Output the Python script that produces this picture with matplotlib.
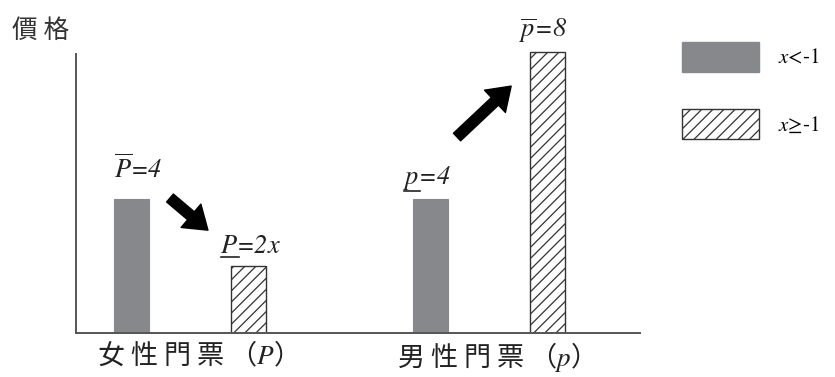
import matplotlib
matplotlib.use("Agg")
import matplotlib.pyplot as plt
from matplotlib.patches import Patch
from matplotlib.lines import Line2D

plt.rcParams['font.family'] = ['Noto Sans CJK TC', 'DejaVu Sans']
plt.rcParams['mathtext.fontset'] = 'stix'
plt.rcParams['hatch.linewidth'] = 0.9
plt.rcParams['hatch.color'] = '#333333'

# ---- data ----
groups = ['女 性 門 票 （$P$）', '男 性 門 票 （$p$）']
group_pos = [0.0, 1.0]
low_values = [4, 4]        # x < -1 (gray bars)
high_values = [2, 8.4]     # x >= -1 (hatched bars)
legend_labels = ['$x$<-1', '$x$≥-1']
ylabel = '價 格'

W, H = 835, 377
fig = plt.figure(figsize=(W / 100, H / 100), dpi=100)
ax = fig.add_axes([76 / W, 44 / H, 564 / W, 9 * 33.5 / H])

off = 0.195
bw = 0.117
gray = '#87888b'
lowx = [g - off for g in group_pos]
highx = [g + off for g in group_pos]
ax.bar(lowx, low_values, width=bw, color=gray, edgecolor=gray, linewidth=0.8, zorder=2)
ax.bar(highx, high_values, width=bw, color='white', edgecolor='#333333',
       hatch='///', linewidth=1.0, zorder=2)

ax.set_xlim(-0.3813, 1.505)
ax.set_ylim(0, 9)
for s in ['top', 'right']:
    ax.spines[s].set_visible(False)
for s in ['left', 'bottom']:
    ax.spines[s].set_color('#555555')
    ax.spines[s].set_linewidth(1.4)
ax.spines['left'].set_bounds(0, 8.33)
ax.set_yticks([])
ax.set_xticks([])

# category labels (below the axis)
label_shift = [0.0, 0.0]
for g, lab, sh in zip(group_pos, groups, label_shift):
    ax.text(g + sh, -0.22, lab, fontsize=19.5, color='#222222', ha='center', va='top')

# value labels
tcol = '#222222'
fs = 19
vkw = dict(fontsize=fs, ha='left', va='baseline', color=tcol,
           family='STIXGeneral', style='italic')
ax.text(lowx[0] - bw / 2, 4.63, '$\\overline{P}$=4', **vkw)
ax.text(highx[1] - bw / 2 - 0.035, 8.84, '$\\overline{p}$=8', **vkw)

underlined = [(highx[0] - bw / 2 - 0.035, 2.39, 'P', '=2x'),
              (lowx[1] - bw / 2 - 0.035, 4.45, 'p', '=4')]
fig.canvas.draw()
renderer = fig.canvas.get_renderer()
for x, y, sym, rest in underlined:
    ax.text(x, y, '$' + sym + '$' + rest, **vkw)
    probe = ax.text(x, y, '$' + sym + '$', alpha=0, **{k: v for k, v in vkw.items() if k != 'color'})
    bb = probe.get_window_extent(renderer)
    probe.remove()
    ydisp = ax.transData.transform((x, y))[1]
    y_line = ydisp - (7 if sym == 'p' else 4)
    fig.add_artist(Line2D([(bb.x0 + 1) / W, (bb.x1 + 1) / W], [y_line / H, y_line / H],
                          color=tcol, linewidth=1.2))

# arrows
astyle = 'simple,head_width=2.2,head_length=1.6,tail_width=0.75'
ax.annotate('', xy=(0.060, 3.07), xytext=(-0.067, 4.03),
            arrowprops=dict(arrowstyle=astyle, mutation_scale=10, color='black', shrinkA=0, shrinkB=0))
ax.annotate('', xy=(1.074, 7.37), xytext=(0.893, 5.85),
            arrowprops=dict(arrowstyle=astyle, mutation_scale=10, color='black', shrinkA=0, shrinkB=0))

# y label
fig.text(12 / W, 1 - 31 / H, ylabel, fontsize=18.5, ha='left', va='center', color='#333333')

# legend
handles = [Patch(facecolor=gray, edgecolor=gray),
           Patch(facecolor='white', edgecolor='#333333', hatch='///')]
em = 15 * 100 / 72
# drawn patch height = em * (0.65 * handleheight + 0.245)
hh = (30 / em - 0.245) / 0.65
leg = fig.legend(handles, legend_labels, loc='upper left',
                 bbox_to_anchor=(682 / W, 1 - 42 / H), frameon=False,
                 prop={'family': 'STIXGeneral', 'size': 15},
                 borderpad=0, borderaxespad=0,
                 handlelength=77 / em, handleheight=hh,
                 labelspacing=37 / em, handletextpad=19 / em)

fig.savefig('out.png', dpi=100)
